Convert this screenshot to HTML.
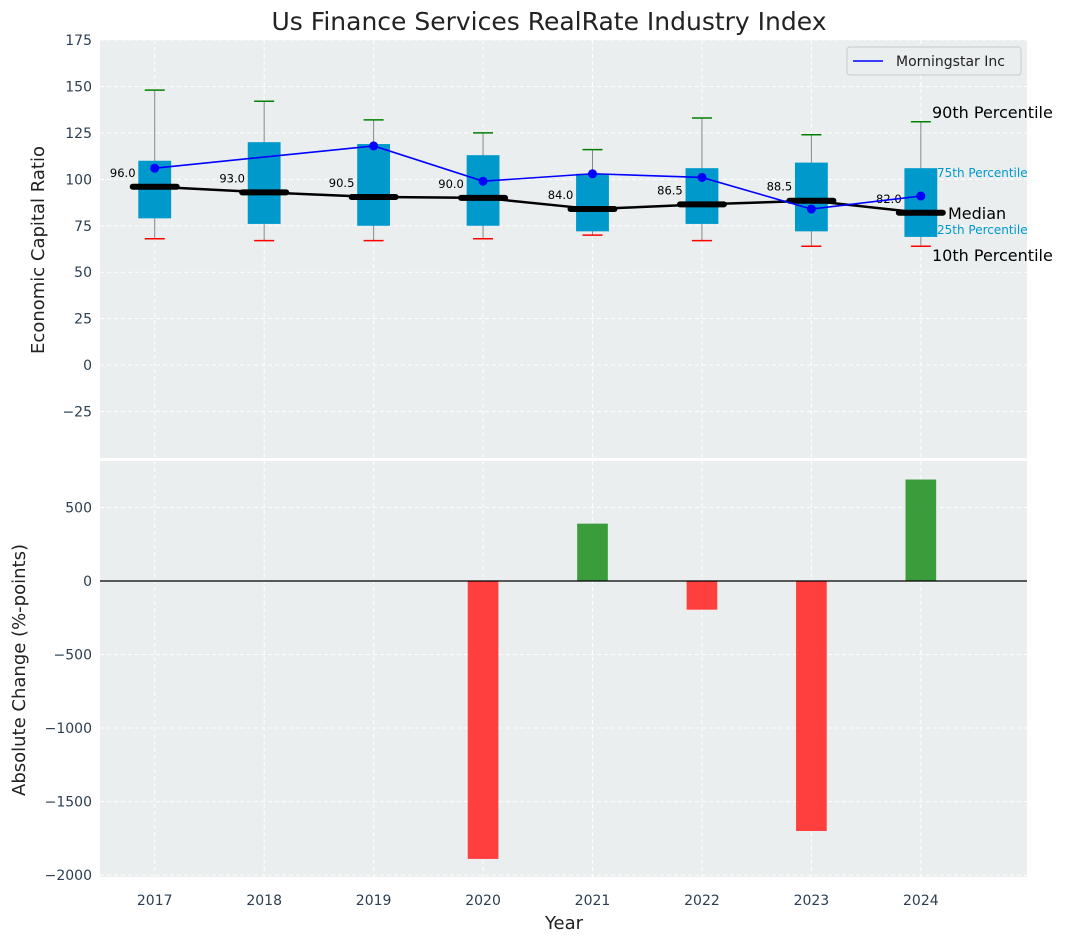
<!DOCTYPE html>
<html><head><meta charset="utf-8"><style>
body{margin:0;background:#fff;font-family:"Liberation Sans","DejaVu Sans",sans-serif}
svg text{font-family:"DejaVu Sans","Liberation Sans",sans-serif}
</style></head><body>
<svg id="c" width="1067" height="942" xmlns="http://www.w3.org/2000/svg"></svg>
<script>
const years=[2017,2018,2019,2020,2021,2022,2023,2024];
const wLow=[68,67,67,68,70,67,64,64];
const wHigh=[148,142,132,125,116,133,124,131];
const q1=[79,76,75,75,72,76,72,69];
const q3=[110,120,119,113,103,106,109,106];
const med=[96,93,90.5,90,84,86.5,88.5,82];
const ms=[106,112,118,99,103,101,84,91];
const change=[null,null,null,-1890,390,-195,-1700,690];
const topTicks=[-25,0,25,50,75,100,125,150,175];
const botTicks=[-2000,-1500,-1000,-500,0,500];

const NS="http://www.w3.org/2000/svg";
const svg=document.getElementById('c');
function el(t,a,p){const e=document.createElementNS(NS,t);for(const k in a)e.setAttribute(k,a[k]);(p||svg).appendChild(e);return e;}
const L=100,R=1027;
const x=v=>L+(v-2016.5)/(2024.97-2016.5)*(R-L);
const T0=40,T1=458,B0=461,B1=877;
const yt=v=>T0+(175-v)/(175-(-50))*(T1-T0);
const yb=v=>B0+(816-v)/(816-(-2013))*(B1-B0);

let t=el('text',{x:549,y:30,'text-anchor':'middle','font-size':25,fill:'#222'});t.textContent='Us Finance Services RealRate Industry Index';


function panel(y0,y1,ticks,yf,name){
  const g=el('g',{});
  
  el('rect',{x:L,y:y0,width:R-L,height:y1-y0,fill:'#eaeeee'},g);
  ticks.forEach(v=>{const yy=yf(v);
    el('line',{x1:L,x2:R,y1:yy,y2:yy,stroke:'#fff','stroke-dasharray':'4,3','stroke-width':1},g);
    const tx=el('text',{x:L-8,y:yy+5,'text-anchor':'end','font-size':14,fill:'#2c3e50'},g);tx.textContent=(v<0?'\u2212'+(-v):v);
    
  });
  years.forEach(v=>el('line',{x1:x(v),x2:x(v),y1:y0,y2:y1,stroke:'#fff','stroke-dasharray':'4,3'},g));
  return g;
}
const gt=panel(T0,T1,topTicks,yt,'top-panel');
const gb=panel(B0,B1,botTicks,yb,'bottom-panel');

const bw=0.3*(x(1)-x(0));
years.forEach((yr,i)=>{
  const cx=x(yr);
  const g=el('g',{});
  el('line',{x1:cx,x2:cx,y1:yt(wLow[i]),y2:yt(wHigh[i]),stroke:'#888','stroke-width':1},g);
  el('rect',{x:cx-bw/2,y:yt(q3[i]),width:bw,height:yt(q1[i])-yt(q3[i]),fill:'#0099cc'},g);
  el('line',{x1:cx-10,x2:cx+10,y1:yt(wHigh[i]),y2:yt(wHigh[i]),stroke:'green','stroke-width':1.5},g);
  el('line',{x1:cx-10,x2:cx+10,y1:yt(wLow[i]),y2:yt(wLow[i]),stroke:'red','stroke-width':1.5},g);
});
el('polyline',{points:years.map((yr,i)=>x(yr)+','+yt(med[i])).join(' '),fill:'none',stroke:'#000','stroke-width':2.5});
years.forEach((yr,i)=>{
  const m=el('line',{x1:x(yr)-22,x2:x(yr)+22,y1:yt(med[i]),y2:yt(med[i]),stroke:'#000','stroke-width':6,'stroke-linecap':'round'});
  
  const tx=el('text',{x:x(yr)-32,y:yt(med[i])-10,'text-anchor':'middle','font-size':11.5,fill:'#000'});tx.textContent=med[i].toFixed(1);
  
});
el('polyline',{points:years.map((yr,i)=>x(yr)+','+yt(ms[i])).join(' '),fill:'none',stroke:'#0000ff','stroke-width':1.6});
years.forEach((yr,i)=>{if(i===1)return;const c=el('circle',{cx:x(yr),cy:yt(ms[i]),r:4.5,fill:'#0000ff'});
  });

const ann=[['90th Percentile',932,118,16,'#000'],['75th Percentile',937,177,12,'#0099cc'],['Median',948,219,16,'#000'],['25th Percentile',937,234,12,'#0099cc'],['10th Percentile',932,261,16,'#000']];
ann.forEach(a=>{const tx=el('text',{x:a[1],y:a[2],'font-size':a[3],fill:a[4]});tx.textContent=a[0];
  });

const lg=el('g',{});
el('rect',{x:847,y:47,width:174,height:28,rx:3,fill:'#eaeeee',stroke:'#ccc'},lg);
el('line',{x1:853,x2:883,y1:61,y2:61,stroke:'#0000ff','stroke-width':1.6},lg);
let lt=el('text',{x:896,y:66,'font-size':14,fill:'#222'},lg);lt.textContent='Morningstar Inc';

const bbw=0.28*(x(1)-x(0));
years.forEach((yr,i)=>{if(change[i]==null)return;
  const v=change[i];const r=el('rect',{x:x(yr)-bbw/2,y:Math.min(yb(0),yb(v)),width:bbw,height:Math.abs(yb(v)-yb(0)),fill:v>=0?'#3a9c3a':'#ff3e3e'});
  });
el('line',{x1:L,x2:R,y1:yb(0),y2:yb(0),stroke:'#000','stroke-width':1.2});

years.forEach(yr=>{const tx=el('text',{x:x(yr),y:905,'text-anchor':'middle','font-size':14,fill:'#2c3e50'});tx.textContent=yr;
  });
let a1=el('text',{x:564,y:929,'text-anchor':'middle','font-size':18,fill:'#222'});a1.textContent='Year';

let a2=el('text',{x:0,y:0,'text-anchor':'middle','font-size':18,fill:'#222',transform:'translate(44,250) rotate(-90)'});a2.textContent='Economic Capital Ratio';

let a3=el('text',{x:0,y:0,'text-anchor':'middle','font-size':18,fill:'#222',transform:'translate(25,670) rotate(-90)'});a3.textContent='Absolute Change (%-points)';

</script>
</body></html>
